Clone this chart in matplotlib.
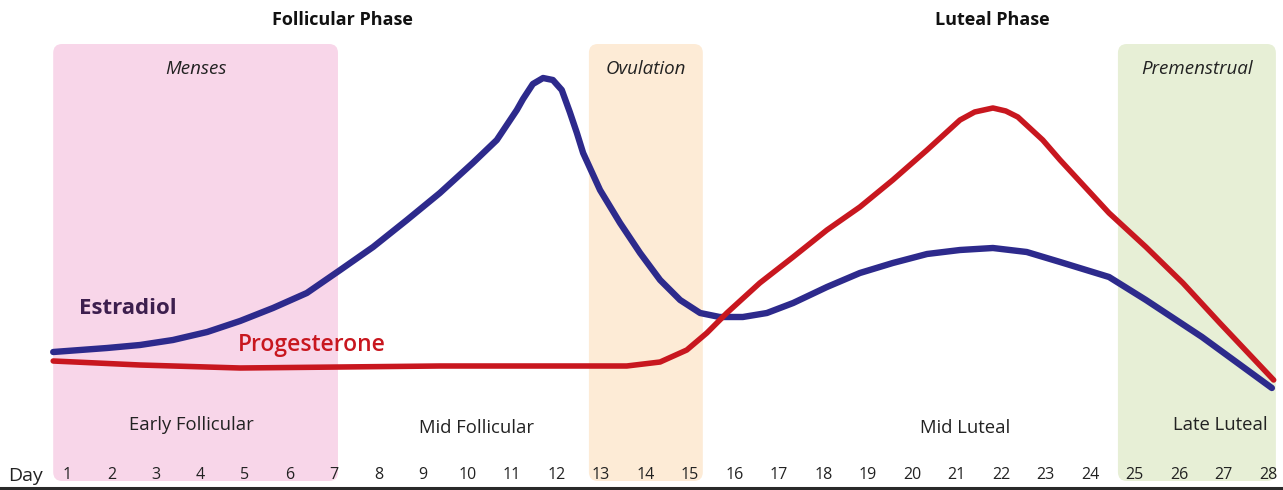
import matplotlib
matplotlib.use('Agg')
from matplotlib import pyplot as plt
from matplotlib.patches import FancyBboxPatch

plt.rcParams['font.family'] = ['Open Sans', 'DejaVu Sans']

# cycle days shown along the bottom
days = list(range(1, 29))

# relative hormone levels (day, level)
estradiolDay = [0.69, 1.9, 2.64, 3.38, 4.15, 4.89, 5.63, 6.39, 7.14, 7.88, 8.64, 9.38, 10.12,
                10.66, 11.11, 11.25, 11.47, 11.7, 11.92, 12.12, 12.3, 12.46, 12.6, 12.98,
                13.43, 13.88, 14.33, 14.78, 15.23, 15.67, 16.19, 16.73, 17.32, 18.08, 18.82,
                19.56, 20.33, 21.07, 21.81, 22.57, 23.32, 24.42, 25.25, 26.51, 28.08]
estradiolLevel = [138, 142, 145, 150, 158, 169, 182, 197, 220, 243, 270, 297, 327,
                  350, 380, 391, 406, 412, 410, 400, 378, 357, 337, 300,
                  267, 237, 210, 190, 177, 173, 173, 177, 187, 203, 217,
                  227, 236, 240, 242, 238, 228, 213, 190, 153, 102]

progesteroneDay = [0.69, 2.64, 4.89, 7.14, 9.38, 11.63, 13.58, 14.33, 14.93, 15.38, 15.83,
                   16.57, 17.32, 18.08, 18.82, 19.56, 20.33, 21.07, 21.4, 21.81, 22.1, 22.37,
                   22.93, 23.32, 24.42, 25.25, 26.08, 26.91, 28.12]
progesteroneLevel = [129, 125, 122, 123, 124, 124, 124, 128, 140, 157, 177,
                     207, 233, 260, 283, 310, 340, 370, 378, 382, 379, 373,
                     350, 330, 277, 243, 207, 167, 110]

# shaded windows: (start day, end day, label, colour)
windows = [(0.69, 7.09, 'Menses', '#f8d6e9'),
           (12.73, 15.29, 'Ovulation', '#fdebd6'),
           (24.62, 28.17, 'Premenstrual', '#e7efd6')]

phaseLabels = [('Follicular Phase', 7.2), ('Luteal Phase', 21.79)]
stageLabels = [('Early Follicular', 3.79, 65), ('Mid Follicular', 10.21, 62),
               ('Mid Luteal', 21.18, 62), ('Late Luteal', 26.91, 65)]

fig = plt.figure(figsize=(12.83, 4.90), dpi=100)
ax = fig.add_axes([0, 0, 1, 1])
ax.set_xlim(-0.506, 28.33)
ax.set_ylim(0, 490)
ax.axis('off')

# x unit is ~44.5 px, y unit is 1 px
aspect = 44.5
for start, end, label, color in windows:
    box = FancyBboxPatch((start, 9), end - start, 437,
                         boxstyle='round,pad=0,rounding_size=0.2',
                         mutation_aspect=aspect, facecolor=color, edgecolor='none', zorder=0)
    ax.add_patch(box)
    ax.text((start + end) / 2, 421, label, style='italic', fontsize=13.5,
            ha='center', va='center', color='#222222')

ax.plot(estradiolDay, estradiolLevel, color='#2d2a8c', linewidth=4.6,
        solid_capstyle='round', solid_joinstyle='round', zorder=3)
ax.plot(progesteroneDay, progesteroneLevel, color='#c8171f', linewidth=4.0,
        solid_capstyle='round', solid_joinstyle='round', zorder=4)

ax.text(2.37, 181, 'Estradiol', fontsize=16, fontweight='bold', color='#3d1f4e',
        ha='center', va='center')
ax.text(6.5, 145, 'Progesterone', fontsize=16.5, fontweight='semibold', color='#c8171f',
        ha='center', va='center')

for label, x in phaseLabels:
    ax.text(x, 470, label, fontsize=13, fontweight='bold', ha='center', va='center',
            color='#111111')

for label, x, y in stageLabels:
    ax.text(x, y, label, fontsize=13.3, ha='center', va='center', color='#222222')

ax.text(-0.33, 14, 'Day', fontsize=14, ha='left', va='center', color='#222222')
for d in days:
    ax.text(d, 15, str(d), fontsize=11.5, ha='center', va='center', color='#222222')

ax.axhline(2, color='#2a2a2a', linewidth=2.2, zorder=5)

fig.savefig('out.png', dpi=100)
